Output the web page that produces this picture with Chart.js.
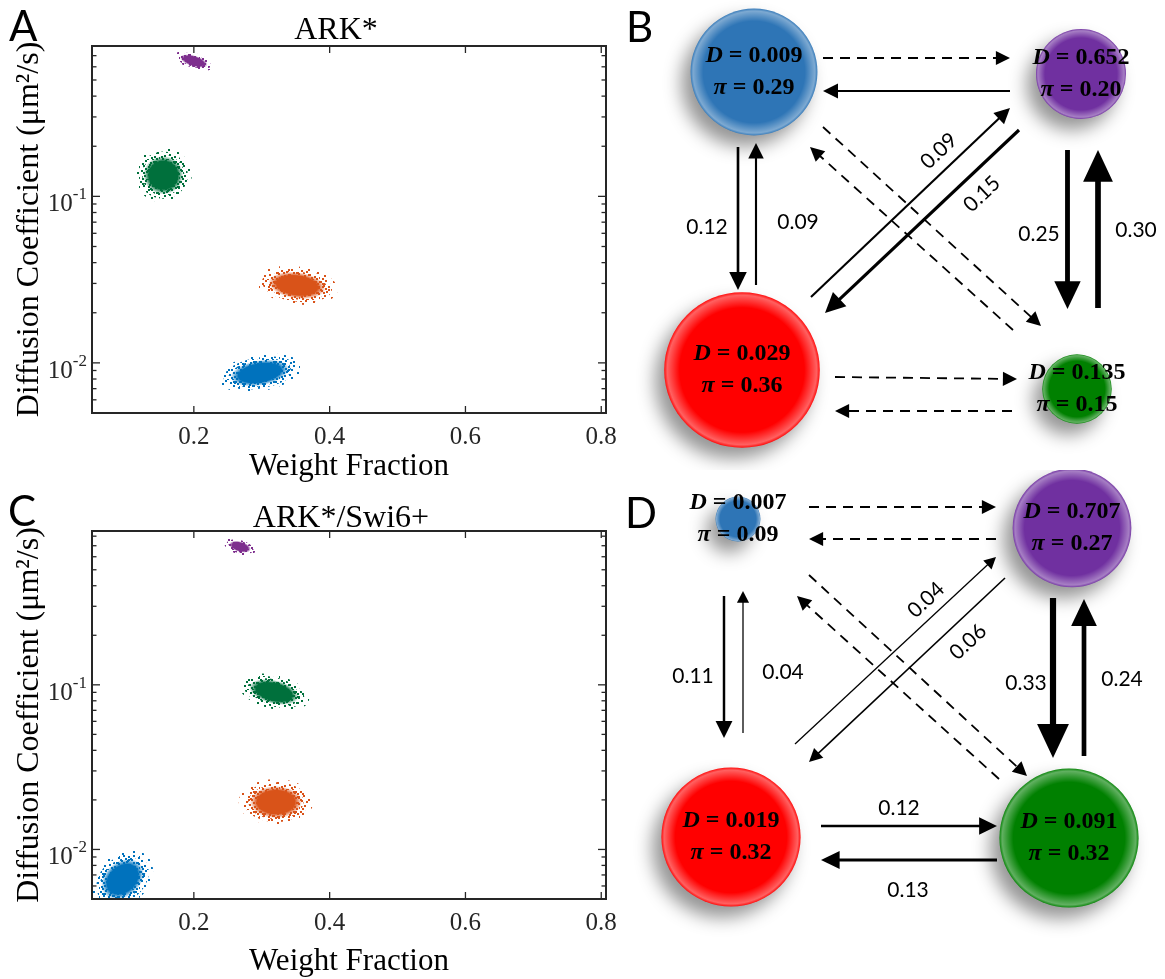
<!DOCTYPE html>
<html>
<head>
<meta charset="utf-8">
<script src="https://cdn.jsdelivr.net/npm/chart.js@4.4.1/dist/chart.umd.min.js"></script>
<style>
  html, body { margin: 0; padding: 0; background: #fff; }
  #fig { position: relative; width: 1165px; height: 979px; overflow: hidden; }
  #fig canvas { position: absolute; }
</style>
</head>
<body>
<div id="fig">
  <canvas id="chartA" width="620" height="490" style="left:0;top:0"></canvas>
  <canvas id="chartC" width="620" height="489" style="left:0;top:490px"></canvas>
  <canvas id="chartB" width="545" height="470" style="left:620px;top:0"></canvas>
  <canvas id="chartD" width="545" height="509" style="left:620px;top:470px"></canvas>
</div>
<script>
/* ============================================
   Diffusive states: weight fraction vs D, and transition diagrams
   ============================================ */

const SERIF = '"Liberation Serif", "Times New Roman", serif';
const SANS = 'Lato, "Open Sans", sans-serif';
const axisColor = '#262626';

// ---- scatter panels (A, C) ----
const stateNames = ['State 1', 'State 2', 'State 3', 'State 4'];
const cloudColors = ['#0072BD', '#D95319', '#00703C', '#7E2F8E'];

const xTicks = [0.2, 0.4, 0.6, 0.8];
const yMajorTicks = [0.01, 0.1];
const yMinorTicks = [0.005, 0.006, 0.007, 0.008, 0.009,
  0.02, 0.03, 0.04, 0.05, 0.06, 0.07, 0.08, 0.09,
  0.2, 0.3, 0.4, 0.5, 0.6, 0.7, 0.8];

// ARK*  (centre of each sample cloud, its half width / half height in decades, tilt in decades)
const fracA   = [0.297, 0.352, 0.155, 0.200];
const diffA   = [0.0087, 0.0292, 0.134, 0.65];
const fracSdA = [0.062, 0.060, 0.042, 0.029];
const diffSdA = [0.110, 0.115, 0.165, 0.050];
const tiltA   = [0.035, -0.025, 0.0, -0.030];

// ARK*/Swi6+
const fracC   = [0.095, 0.321, 0.318, 0.268];
const diffC   = [0.0066, 0.0194, 0.0905, 0.69];
const fracSdC = [0.045, 0.055, 0.052, 0.023];
const diffSdC = [0.170, 0.140, 0.105, 0.048];
const tiltC   = [0.050, 0.0, -0.040, -0.020];

// ---- transition diagrams (B, D) ----
// state order: blue, red, green, purple
const diffB = [0.009, 0.029, 0.135, 0.652];
const piB   = [0.29, 0.36, 0.15, 0.20];
const diffD = [0.007, 0.019, 0.091, 0.707];
const piD   = [0.09, 0.32, 0.32, 0.27];

// [from, to, probability]  (null = arrow without a number)
const transB = [[0,3,null],[3,0,null],[0,1,0.12],[1,0,0.09],[1,3,0.09],[3,1,0.15],
                [0,2,null],[2,0,null],[3,2,0.25],[2,3,0.30],[1,2,null],[2,1,null]];
const transD = [[0,3,null],[3,0,null],[0,1,0.11],[1,0,0.04],[1,3,0.04],[3,1,0.06],
                [0,2,null],[2,0,null],[3,2,0.33],[2,3,0.24],[1,2,0.12],[2,1,0.13]];

// layout of the diagrams (panel units)
const nodeColors = ['#2E75B6', '#FF0000', '#008000', '#7030A0'];
const nodePosB = [[134, 72], [122, 370], [457, 389], [461, 74]];
const nodePosD = [[118, 49], [111, 367], [449, 368], [452, 58]];
// x1, y1, x2, y2, dashed, labelX, labelY, labelAngle
const arrowsB = [
  [203, 58, 390, 58, true],
  [390, 91, 203, 91, false],
  [118, 147, 118, 290, false, 87, 227],
  [136, 285, 136, 143, false, 178, 222],
  [191, 297, 390, 108, false, 319, 151, -43.5],
  [399, 130, 205, 313, false, 362, 194, -43.5],
  [203, 127, 421, 326, true],
  [393, 330, 190, 147, true],
  [447.5, 150, 447.5, 309, false, 419, 234],
  [478, 308, 478, 150, false, 516, 230],
  [215, 377, 397, 379, true],
  [392, 411, 215, 411, true]
];
const arrowsD = [
  [189, 37, 376, 37, true],
  [376, 69, 189, 69, true],
  [104, 126, 104, 268, false, 73, 206],
  [123, 263, 123, 121, false, 163, 202],
  [175, 274, 376, 87, false, 306, 130, -43],
  [385, 108, 189, 292, false, 348, 172, -43],
  [189, 105, 407, 306, true],
  [379, 309, 177, 126, true],
  [433, 128, 433, 288, false, 406, 213],
  [464, 286, 464, 129, false, 502, 209],
  [201, 356, 377, 356, false, 279, 338],
  [377, 390, 201, 390, false, 288, 420]
];

// speckle textures for the fringe of each cloud
const sparseDots = [[2,3],[13,1],[8,9],[17,12],[4,15],[11,17],[19,6]];
const denseDots = [[0,1],[5,0],[10,2],[15,1],[3,5],[8,6],[13,5],[18,7],[1,10],[6,11],[11,9],
                   [16,12],[4,15],[9,14],[14,16],[19,17],[2,18],[7,19],[12,19],[17,3]];
const thickDots = denseDots.concat(denseDots.map(([px, py]) => [(px + 10) % 20, (py + 7) % 20]));

function hexA(hex, a) {
  const n = parseInt(hex.slice(1), 16);
  return `rgba(${(n >> 16) & 255},${(n >> 8) & 255},${n & 255},${a})`;
}

function dotPattern(ctx, color, dots) {
  const c = document.createElement('canvas');
  c.width = 20; c.height = 20;
  const g = c.getContext('2d');
  g.fillStyle = color;
  dots.forEach(([px, py]) => g.fillRect(px, py, 2, 2));
  return ctx.createPattern(c, 'repeat');
}

function drawCloud(ctx, xs, ys, w, d, a, b, t, color) {
  const cx = xs.getPixelForValue(w), cy = ys.getPixelForValue(d);
  const ux = xs.getPixelForValue(w + a) - cx;
  const uy = ys.getPixelForValue(d * Math.pow(10, t)) - cy;
  const vy = ys.getPixelForValue(d * Math.pow(10, b)) - cy;
  const m = [ux, uy, 0, vy, cx, cy];
  const ellipse = s => {
    ctx.save(); ctx.transform(...m);
    ctx.beginPath(); ctx.arc(0, 0, s, 0, Math.PI * 2);
    ctx.restore();
  };
  ellipse(1.0);  ctx.fillStyle = dotPattern(ctx, color, sparseDots); ctx.fill();
  ellipse(0.86); ctx.fillStyle = dotPattern(ctx, color, denseDots); ctx.fill();
  ellipse(0.74); ctx.fillStyle = dotPattern(ctx, color, thickDots); ctx.fill();
  ctx.save(); ctx.transform(...m);
  const g = ctx.createRadialGradient(0, 0, 0, 0, 0, 0.7);
  g.addColorStop(0, color);
  g.addColorStop(0.72, color);
  g.addColorStop(1, hexA(color, 0));
  ctx.beginPath(); ctx.arc(0, 0, 0.7, 0, Math.PI * 2);
  ctx.fillStyle = g; ctx.fill();
  ctx.restore();
}

function line(ctx, x1, y1, x2, y2) {
  ctx.beginPath(); ctx.moveTo(x1, y1); ctx.lineTo(x2, y2); ctx.stroke();
}

function cloudPanel(cfg) {
  return {
    id: 'cloudPanel',
    beforeDatasetsDraw(chart) {
      const {ctx, chartArea: ca, scales: {x, y}} = chart;
      ctx.save();
      ctx.beginPath(); ctx.rect(ca.left, ca.top, ca.right - ca.left, ca.bottom - ca.top); ctx.clip();
      cfg.frac.forEach((w, i) => drawCloud(ctx, x, y, w, cfg.diff[i], cfg.fracSd[i], cfg.diffSd[i], cfg.tilt[i], cloudColors[i]));
      ctx.restore();
    },
    afterDraw(chart) {
      const {ctx, chartArea: ca, scales: {x, y}} = chart;
      ctx.save();
      ctx.strokeStyle = axisColor;
      ctx.lineWidth = 1.3;
      xTicks.forEach(v => {
        const px = x.getPixelForValue(v);
        line(ctx, px, ca.bottom, px, ca.bottom - 7);
        line(ctx, px, ca.top, px, ca.top + 7);
      });
      yMajorTicks.forEach(v => {
        const py = y.getPixelForValue(v);
        line(ctx, ca.left, py, ca.left + 8, py);
        line(ctx, ca.right, py, ca.right - 8, py);
      });
      yMinorTicks.forEach(v => {
        const py = y.getPixelForValue(v);
        line(ctx, ca.left, py, ca.left + 4.5, py);
        line(ctx, ca.right, py, ca.right - 4.5, py);
      });
      ctx.lineWidth = 2;
      ctx.strokeRect(ca.left, ca.top, ca.right - ca.left, ca.bottom - ca.top);

      // y tick labels as 10 with a raised exponent
      ctx.fillStyle = axisColor;
      ctx.textAlign = 'right';
      ctx.textBaseline = 'alphabetic';
      yMajorTicks.forEach(v => {
        const py = y.getPixelForValue(v);
        const sup = String(Math.round(Math.log10(v)));
        ctx.font = `17px ${SERIF}`;
        const sw = ctx.measureText(sup).width;
        ctx.fillText(sup, ca.left - 5, py + 3);
        ctx.font = `25px ${SERIF}`;
        ctx.fillText('10', ca.left - 5 - sw, py + 15);
      });

      // panel title and letter
      ctx.textAlign = 'center';
      ctx.font = `32px ${SERIF}`;
      ctx.fillStyle = '#000';
      ctx.fillText(cfg.title, cfg.titleX, cfg.titleY);
      ctx.textAlign = 'left';
      ctx.font = `42px ${SANS}`;
      ctx.fillText(cfg.letter, cfg.letterX, cfg.letterY);
      ctx.restore();
    }
  };
}

function makeScatter(id, cfg) {
  return new Chart(document.getElementById(id), {
    type: 'scatter',
    data: {
      datasets: stateNames.map((name, i) => ({
        label: name,
        data: [{x: cfg.frac[i], y: cfg.diff[i]}],
        pointRadius: 0,
        backgroundColor: cloudColors[i]
      }))
    },
    options: {
      responsive: false,
      animation: false,
      events: [],
      layout: {padding: {left: 0, right: 14, top: cfg.top, bottom: 0}},
      plugins: {legend: {display: false}, tooltip: {enabled: false}},
      scales: {
        x: {
          type: 'linear', min: 0.05, max: 0.807,
          afterBuildTicks: s => { s.ticks = xTicks.map(v => ({value: v})); },
          afterFit: s => { s.height = cfg.xAxisH; },
          grid: {display: false, drawTicks: true, tickLength: 8},
          border: {display: false},
          ticks: {font: {family: SERIF, size: 25}, color: axisColor, padding: 1, maxRotation: 0,
                  callback: v => String(v)},
          title: {display: true, text: 'Weight Fraction', color: '#000',
                  font: {family: SERIF, size: 31, lineHeight: 1}, padding: {top: 0, bottom: cfg.xTitlePad}}
        },
        y: {
          type: 'logarithmic', min: 0.005, max: cfg.yMax,
          afterFit: s => { s.width = 92; },
          grid: {display: false},
          border: {display: false},
          ticks: {display: false},
          title: {display: true, text: 'Diffusion Coefficient (μm²/s)', color: '#000',
                  font: {family: SERIF, size: 32, lineHeight: 1}, padding: {top: 14, bottom: 0}}
        }
      }
    },
    plugins: [cloudPanel(cfg)]
  });
}

makeScatter('chartA', {
  frac: fracA, diff: diffA, fracSd: fracSdA, diffSd: diffSdA, tilt: tiltA,
  top: 46, xAxisH: 77, xTitlePad: 7.5, yMax: 0.8,
  title: 'ARK*', titleX: 336, titleY: 39, letter: 'A', letterX: 9, letterY: 41
});
makeScatter('chartC', {
  frac: fracC, diff: diffC, fracSd: fracSdC, diffSd: diffSdC, tilt: tiltC,
  top: 41, xAxisH: 80, xTitlePad: 1.5, yMax: 0.86,
  title: 'ARK*/Swi6+', titleX: 341, titleY: 37, letter: 'C', letterX: 8, letterY: 36
});

// ---- diagrams ----
function drawNode(ctx, x, y, r, color) {
  ctx.save();
  ctx.shadowColor = 'rgba(0,0,0,0.42)';
  ctx.shadowBlur = 18;
  ctx.shadowOffsetX = -9;
  ctx.shadowOffsetY = 11;
  ctx.beginPath(); ctx.arc(x, y, r, 0, Math.PI * 2);
  ctx.fillStyle = color; ctx.fill();
  ctx.restore();
  ctx.save();
  const g = ctx.createRadialGradient(x, y, r * 0.8, x, y, r);
  g.addColorStop(0, 'rgba(255,255,255,0)');
  g.addColorStop(0.8, 'rgba(255,255,255,0.38)');
  g.addColorStop(1, 'rgba(255,255,255,0.05)');
  ctx.beginPath(); ctx.arc(x, y, r, 0, Math.PI * 2);
  ctx.fillStyle = g; ctx.fill();
  ctx.restore();
}

function drawMixed(ctx, parts, cx, cy) {
  const fonts = parts.map(p => (p[1] ? 'italic ' : '') + `bold 24px ${SERIF}`);
  const widths = parts.map((p, i) => { ctx.font = fonts[i]; return ctx.measureText(p[0]).width; });
  let xx = cx - widths.reduce((s, v) => s + v, 0) / 2;
  ctx.textAlign = 'left';
  ctx.textBaseline = 'middle';
  ctx.fillStyle = '#000';
  parts.forEach((p, i) => { ctx.font = fonts[i]; ctx.fillText(p[0], xx, cy); xx += widths[i]; });
}

function drawArrow(ctx, x1, y1, x2, y2, w, dashed) {
  const ang = Math.atan2(y2 - y1, x2 - x1);
  const L = 6 + 4.5 * w, H = 3.5 + 2 * w;
  const c = Math.cos(ang), s = Math.sin(ang);
  const bx = x2 - L * c, by = y2 - L * s;
  ctx.save();
  ctx.strokeStyle = '#000';
  ctx.fillStyle = '#000';
  ctx.lineWidth = w;
  if (dashed) ctx.setLineDash([10, 7]);
  line(ctx, x1, y1, bx + c, by + s);
  ctx.setLineDash([]);
  ctx.beginPath();
  ctx.moveTo(x2, y2);
  ctx.lineTo(bx - H * s, by + H * c);
  ctx.lineTo(bx + H * s, by - H * c);
  ctx.closePath();
  ctx.fill();
  ctx.restore();
}

function diagramPanel(cfg) {
  return {
    id: 'diagramPanel',
    afterDatasetsDraw(chart) {
      const {ctx, scales: {x, y}} = chart;
      const meta = chart.getDatasetMeta(0);
      meta.data.forEach((el, i) => drawNode(ctx, el.x, el.y, el.options.radius, nodeColors[i]));
      meta.data.forEach((el, i) => {
        drawMixed(ctx, [['D', true], [' = ' + cfg.diff[i].toFixed(3), false]], el.x, el.y - 16);
        drawMixed(ctx, [['π', true], [' = ' + cfg.pi[i].toFixed(2), false]], el.x, el.y + 16);
      });
      cfg.trans.forEach((tr, k) => {
        const a = cfg.arrows[k];
        const p = tr[2];
        const w = a[4] ? 1.8 : (p == null ? 2 : 0.6 + 17 * p);
        drawArrow(ctx, x.getPixelForValue(a[0]), y.getPixelForValue(a[1]),
                  x.getPixelForValue(a[2]), y.getPixelForValue(a[3]), w, a[4]);
        if (p != null && a[5] != null) {
          ctx.save();
          ctx.translate(x.getPixelForValue(a[5]), y.getPixelForValue(a[6]));
          ctx.rotate((a[7] || 0) * Math.PI / 180);
          ctx.font = `21px ${SANS}`;
          ctx.fillStyle = '#000';
          ctx.textAlign = 'center';
          ctx.textBaseline = 'middle';
          ctx.fillText(p.toFixed(2), 0, 0);
          ctx.restore();
        }
      });
      ctx.save();
      ctx.font = `42px ${SANS}`;
      ctx.fillStyle = '#000';
      ctx.textAlign = 'left';
      ctx.textBaseline = 'alphabetic';
      ctx.fillText(cfg.letter, cfg.letterX, cfg.letterY);
      ctx.restore();
    }
  };
}

function makeDiagram(id, cfg) {
  const cv = document.getElementById(id);
  return new Chart(cv, {
    type: 'bubble',
    data: {
      datasets: [{
        label: 'states',
        data: cfg.pos.map((p, i) => ({x: p[0], y: p[1], r: 4 + 205 * cfg.pi[i]})),
        backgroundColor: 'rgba(0,0,0,0)',
        borderWidth: 0
      }]
    },
    options: {
      responsive: false,
      animation: false,
      events: [],
      layout: {padding: 0, autoPadding: false},
      plugins: {legend: {display: false}, tooltip: {enabled: false}},
      scales: {
        x: {type: 'linear', min: 0, max: cv.width, display: false, offset: false},
        y: {type: 'linear', min: 0, max: cv.height, reverse: true, display: false, offset: false}
      }
    },
    plugins: [diagramPanel(cfg)]
  });
}

makeDiagram('chartB', {pos: nodePosB, diff: diffB, pi: piB, trans: transB, arrows: arrowsB,
                       letter: 'B', letterX: 6, letterY: 42});
makeDiagram('chartD', {pos: nodePosD, diff: diffD, pi: piD, trans: transD, arrows: arrowsD,
                       letter: 'D', letterX: 5, letterY: 58});
</script>
</body>
</html>
